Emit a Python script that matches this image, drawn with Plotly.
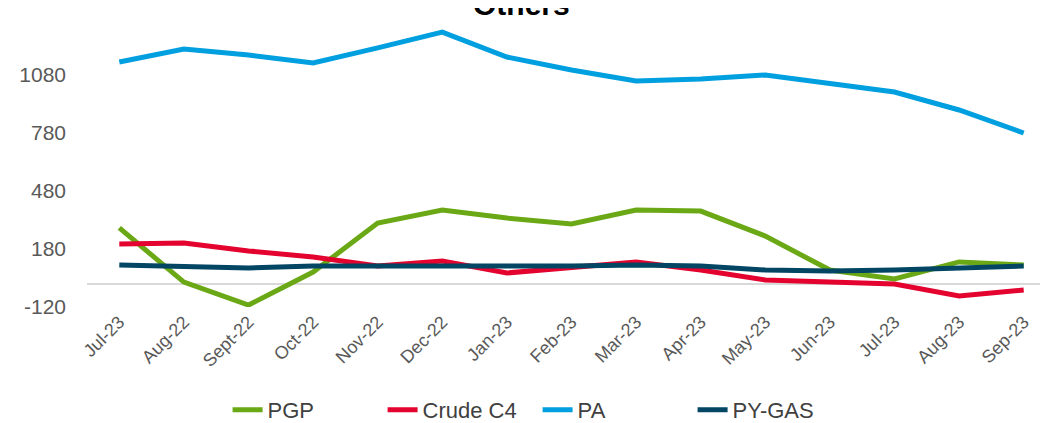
import plotly.graph_objects as go

months = ["Jul-23", "Aug-22", "Sept-22", "Oct-22", "Nov-22", "Dec-22", "Jan-23",
          "Feb-23", "Mar-23", "Apr-23", "May-23", "Jun-23", "Jul-23", "Aug-23", "Sep-23"]

pgp = [289, 9, -110, 61, 314, 382, 340, 309, 382, 376, 247, 71, 25, 113, 97]
crude_c4 = [206, 211, 170, 139, 92, 118, 56, 87, 113, 71, 20, 9, -1, -63, -32]
pa = [1147, 1214, 1183, 1142, 1220, 1302, 1173, 1106, 1049, 1059, 1080, 1039, 992, 899, 780]
py_gas = [97, 87, 82, 92, 92, 92, 87, 92, 97, 92, 71, 66, 71, 82, 92]

yticks = [-120, 180, 480, 780, 1080]

# month labels repeat (Jul-23 twice), so plot on positions and label the ticks
xpos = list(range(len(months)))

series = [
    ("PGP", pgp, "#6AA815"),
    ("Crude C4", crude_c4, "#E4032E"),
    ("PA", pa, "#009FDF"),
    ("PY-GAS", py_gas, "#024663"),
]

fig = go.Figure()
for name, vals, color in series:
    fig.add_trace(go.Scatter(x=xpos, y=vals, name=name, mode="lines",
                             line=dict(color=color, width=5)))

fig.update_layout(
    width=1048, height=423,
    margin=dict(l=79, r=0, t=9, b=124),
    plot_bgcolor="white", paper_bgcolor="white",
    font=dict(family="Liberation Sans, Arial", color="#595959", size=19),
    showlegend=True,
    legend=dict(orientation="h", x=0.465, xanchor="center", y=-0.355, yanchor="middle",
                font=dict(size=22, color="#404040"), itemwidth=30,
                entrywidth=110, entrywidthmode="pixels",
                traceorder="normal"),
)

fig.update_xaxes(
    range=[-0.5, len(months) - 0.5],
    tickvals=xpos, ticktext=months, tickangle=-45,
    tickfont=dict(size=18, color="#595959"),
    showgrid=False, zeroline=False, showline=False, ticks="",
    automargin=False,
)
fig.update_yaxes(
    range=[-120, 1380],
    tickvals=yticks, ticktext=[str(v) for v in yticks],
    tickfont=dict(size=21, color="#595959"),
    showgrid=False, zeroline=True, zerolinecolor="#D9D9D9", zerolinewidth=2,
    showline=False, ticks="", ticklabelstandoff=20,
    automargin=False,
)

fig.add_annotation(text="<b>Others</b>", xref="paper", yref="paper",
                   x=0.448, y=0.98, yanchor="bottom", showarrow=False,
                   font=dict(size=30, color="black"))

fig.write_html("out.html")
